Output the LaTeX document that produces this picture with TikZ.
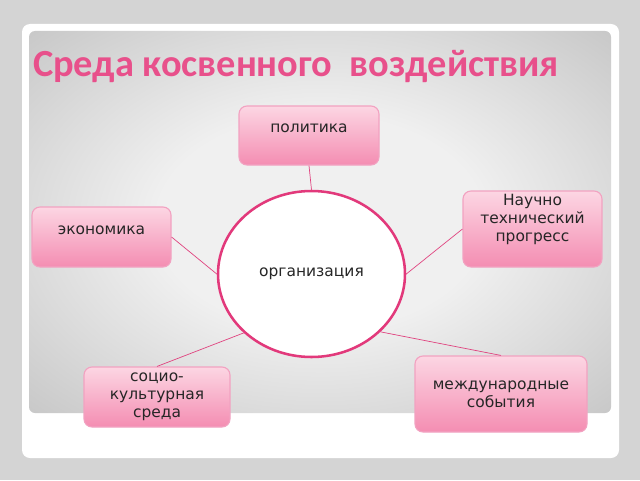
\documentclass[tikz,border=0pt]{standalone}
\usepackage{fontspec}
\setmainfont{DejaVu Sans}
\newfontfamily\titlefont{Carlito}
\usetikzlibrary{shapes.geometric}

\definecolor{slidegray}{HTML}{D4D4D4}
\definecolor{panelmid}{HTML}{F0F0F0}
\definecolor{paneledge}{HTML}{9E9E9E}
\definecolor{titlepink}{HTML}{E8508B}
\definecolor{boxtop}{HTML}{FCD6E3}
\definecolor{boxbot}{HTML}{F48DB2}
\definecolor{boxedge}{HTML}{F2A2C1}
\definecolor{ringpink}{HTML}{E2397B}
\definecolor{linkpink}{HTML}{E0437F}

\pgfdeclareradialshading{panelglow}{\pgfpoint{0bp}{0bp}}{color(0bp)=(panelmid); color(14bp)=(panelmid); color(58bp)=(paneledge); color(70bp)=(paneledge)}

\tikzset{
  factor/.style={draw=boxedge, line width=0.8pt, rounded corners=0.2cm,
    top color=boxtop, bottom color=boxbot, align=center,
    font=\fontsize{11}{12.8}\selectfont, text=black!85, inner sep=0pt},
  orgring/.style={ellipse, draw=ringpink, line width=1.8pt, fill=white,
    minimum width=4.675cm, minimum height=4.15cm,
    font=\fontsize{11}{12.8}\selectfont, text=black!85},
  link/.style={draw=linkpink, line width=0.5pt}
}

\begin{document}
\begin{tikzpicture}
  % slide background and frame
  \fill[slidegray] (0,0) rectangle (16,12);
  \fill[white, rounded corners=0.2cm] (0.55,0.55) rectangle (15.475,11.4);
  \shade[shading=panelglow, rounded corners=0.15cm] (0.725,1.675) rectangle (15.275,11.225);

  % title
  \node[anchor=base west, inner sep=0pt, text=titlepink,
    font=\titlefont\bfseries\fontsize{27.3}{32}\selectfont] (title) at (0.82,10.075)
    {Среда косвенного\ \ воздействия};

  % the organisation in the middle
  \node[orgring] (org) at (7.7875,5.15) {организация};

  % factors of the environment
  \node[factor, minimum width=3.5cm, minimum height=1.475cm,
    text height=0.2cm, text depth=0.34cm] (pol) at (7.725,8.6125) {политика};
  \node[factor, minimum width=3.475cm, minimum height=1.5cm,
    text height=0.2cm, text depth=0.34cm] (econ) at (2.5375,6.075) {экономика};
  \node[factor, minimum width=3.475cm, minimum height=1.9cm,
    text height=1.25cm, text depth=0.65cm]
    (sci) at (13.3125,6.275) {Научно\\технический\\прогресс};
  \node[factor, minimum width=3.65cm, minimum height=1.5cm]
    (soc) at (3.925,2.075) {социо-\\культурная\\среда};
  \node[factor, minimum width=4.3cm, minimum height=1.9cm]
    (intl) at (12.525,2.15) {международные\\события};

  % connectors
  \draw[link] (pol.south) -- (org.north);
  \draw[link] (econ.east) -- (org.west);
  \draw[link] (sci.west) -- (org.east);
  \draw[link] (soc.north) -- (org.221);
  \draw[link] (intl.north) -- (org.320);
\end{tikzpicture}
\end{document}
